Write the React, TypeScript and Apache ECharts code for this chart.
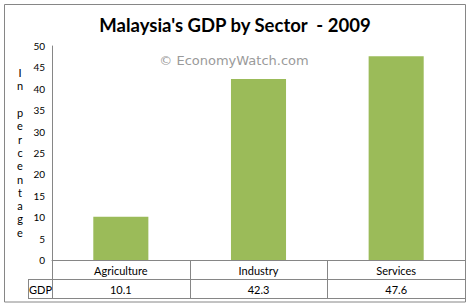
import React, { useEffect, useRef } from "react";
import * as echarts from "echarts";

const categories = ["Agriculture", "Industry", "Services"];
const gdpValues = [10.1, 42.3, 47.6];
const rowLabel = "GDP";
const yTitle = "In percentage";
const titleText = "Malaysia's GDP by Sector  - 2009";
const watermark = "\u00A9 EconomyWatch.com";

const W = 472;
const H = 306;
const GL = 52;
const GR = 465;
const GT = 46;
const GB = 260;
const ROW1 = 279;
const ROW2 = 298;
const LINE = "#868686";
const FONT = "Lato, 'Noto Sans', sans-serif";

export default function App() {
  const ref = useRef<HTMLDivElement>(null);
  useEffect(() => {
    document.body.style.margin = "0";
    const chart = echarts.init(ref.current!, null, { renderer: "svg", width: W, height: H });
    const colW = (GR - GL) / categories.length;
    const graphics: any[] = [
      {
        type: "rect",
        shape: { x: 4.5, y: 4.5, width: 461, height: 297.5 },
        style: { fill: "none", stroke: LINE, lineWidth: 1 },
        silent: true,
      },
      {
        type: "text",
        x: 235,
        y: 25,
        style: {
          text: titleText,
          font: `bold 18.5px ${FONT}`,
          fill: "#000",
          textAlign: "center",
          textVerticalAlign: "middle",
        },
      },
      {
        type: "text",
        x: 234,
        y: 60,
        style: {
          text: watermark,
          font: `13px 'DejaVu Sans', sans-serif`,
          fill: "#9a9a9a",
          textAlign: "center",
          textVerticalAlign: "middle",
        },
      },
      {
        type: "text",
        x: 20,
        y: 66,
        style: {
          text: yTitle.split("").join("\n"),
          font: `11px ${FONT}`,
          lineHeight: 13.3,
          fill: "#000",
          textAlign: "center",
        },
      },
      { type: "line", shape: { x1: 28, y1: ROW1 + 0.5, x2: GR, y2: ROW1 + 0.5 }, style: { stroke: LINE, lineWidth: 1 } },
      { type: "line", shape: { x1: 28, y1: ROW2 + 0.5, x2: GR, y2: ROW2 + 0.5 }, style: { stroke: LINE, lineWidth: 1 } },
      { type: "line", shape: { x1: 28.5, y1: ROW1, x2: 28.5, y2: ROW2 + 1 }, style: { stroke: LINE, lineWidth: 1 } },
      {
        type: "text",
        x: 40.5,
        y: (ROW1 + ROW2) / 2 + 1,
        style: { text: rowLabel, font: `11px ${FONT}`, fill: "#000", textAlign: "center", textVerticalAlign: "middle" },
      },
    ];
    for (let i = 0; i <= categories.length; i++) {
      const x = Math.round(GL + i * colW) + 0.5;
      graphics.push({
        type: "line",
        shape: { x1: x, y1: GB, x2: x, y2: ROW2 + 1 },
        style: { stroke: LINE, lineWidth: 1 },
      });
    }
    gdpValues.forEach((v, i) => {
      graphics.push({
        type: "text",
        x: GL + (i + 0.5) * colW,
        y: (ROW1 + ROW2) / 2 + 1,
        style: { text: String(v), font: `11px ${FONT}`, fill: "#000", textAlign: "center", textVerticalAlign: "middle" },
      });
    });

    chart.setOption({
      animation: false,
      backgroundColor: "#fff",
      grid: { left: GL, right: W - GR, top: GT, bottom: H - GB, containLabel: false },
      xAxis: {
        type: "category",
        data: categories,
        axisLine: { show: true, lineStyle: { color: LINE, width: 1 } },
        axisTick: { show: false },
        axisLabel: { color: "#000", fontSize: 11, fontFamily: FONT, margin: 5 },
        splitLine: { show: false },
      },
      yAxis: {
        type: "value",
        min: 0,
        max: 50,
        interval: 5,
        axisLine: { show: true, lineStyle: { color: LINE, width: 1 } },
        axisTick: { show: false },
        axisLabel: { color: "#000", fontSize: 10, fontFamily: FONT, margin: 7 },
        splitLine: { show: false },
      },
      series: [
        {
          type: "bar",
          data: gdpValues,
          barWidth: "40%",
          itemStyle: { color: "#9BBB59" },
        },
      ],
      graphic: graphics,
    });
    return () => chart.dispose();
  }, []);
  return <div ref={ref} style={{ width: W, height: H, position: "absolute", left: 0, top: 0 }} />;
}
